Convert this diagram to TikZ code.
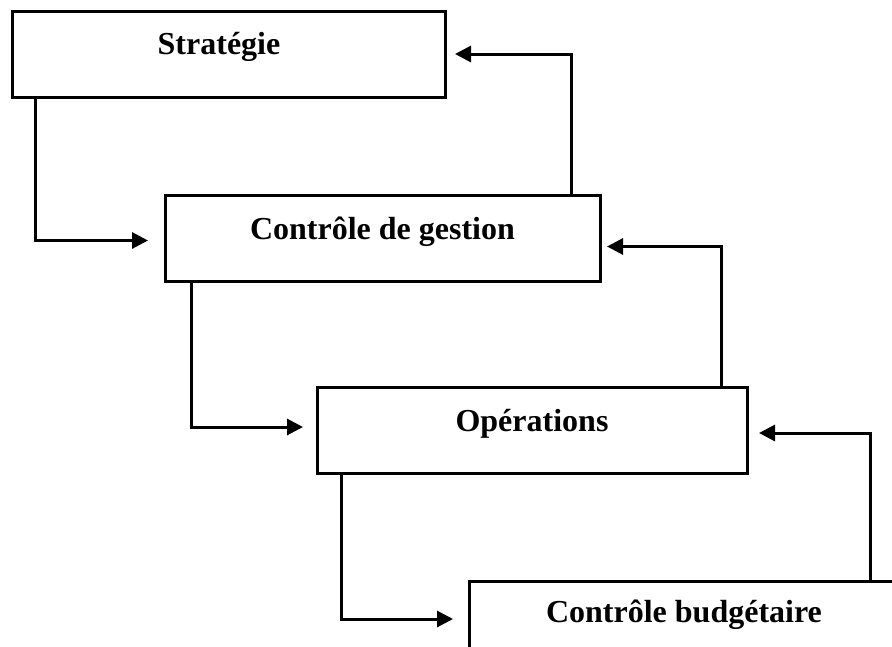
\documentclass[tikz,border=0pt]{standalone}
\usepackage{fontspec}
\setmainfont{Liberation Serif}
\usetikzlibrary{arrows.meta}

\tikzset{
  stagebox/.style={draw, line width=3pt, inner sep=0pt, outer sep=0pt,
    minimum height=86pt, anchor=north west},
  stagetext/.style={anchor=base, inner sep=0pt,
    font=\fontsize{32}{38}\selectfont\bfseries},
  flow/.style={line width=3pt, -{Triangle[length=16pt,width=16pt]}}
}

\begin{document}
\begin{tikzpicture}[x=1pt, y=-1pt]
  \clip (0,0) rectangle (892,646);

  % the four stages, stepping down to the right
  \node[stagebox, minimum width=433pt] (s) at (12,11) {};
  \node[stagebox, minimum width=435pt] (g) at (165,195) {};
  \node[stagebox, minimum width=430pt] (o) at (317,387) {};
  \node[stagebox, minimum width=430pt] (b) at (469,581) {};

  \node[stagetext] (st) at (219,54) {Stratégie};
  \node[stagetext] (gt) at ([yshift=-1pt]g.center) {Contrôle de gestion};
  \node[stagetext] (ot) at ([yshift=-1pt]o.center) {Opérations};
  \node[stagetext] (bt) at (684,622) {Contrôle budgétaire};

  % downward links
  \draw[flow, shorten >=17pt] ([xshift=23pt]s.south west) |- ([yshift=-2.5pt]g.west);
  \draw[flow, shorten >=14pt] ([xshift=26pt]g.south west) |- ([yshift=3pt]o.west);
  \draw[flow, shorten >=16pt] ([xshift=24pt]o.south west) |- ([yshift=5pt]b.west);

  % feedback links
  \draw[flow, shorten >=10pt] ([xshift=-29pt]g.north east) |- (s.east);
  \draw[flow, shorten >=7pt] ([xshift=-26pt]o.north east) |- ([yshift=-8.5pt]g.east);
  \draw[flow, shorten >=12pt] (870,581) |- ([yshift=-3pt]o.east);
\end{tikzpicture}
\end{document}
